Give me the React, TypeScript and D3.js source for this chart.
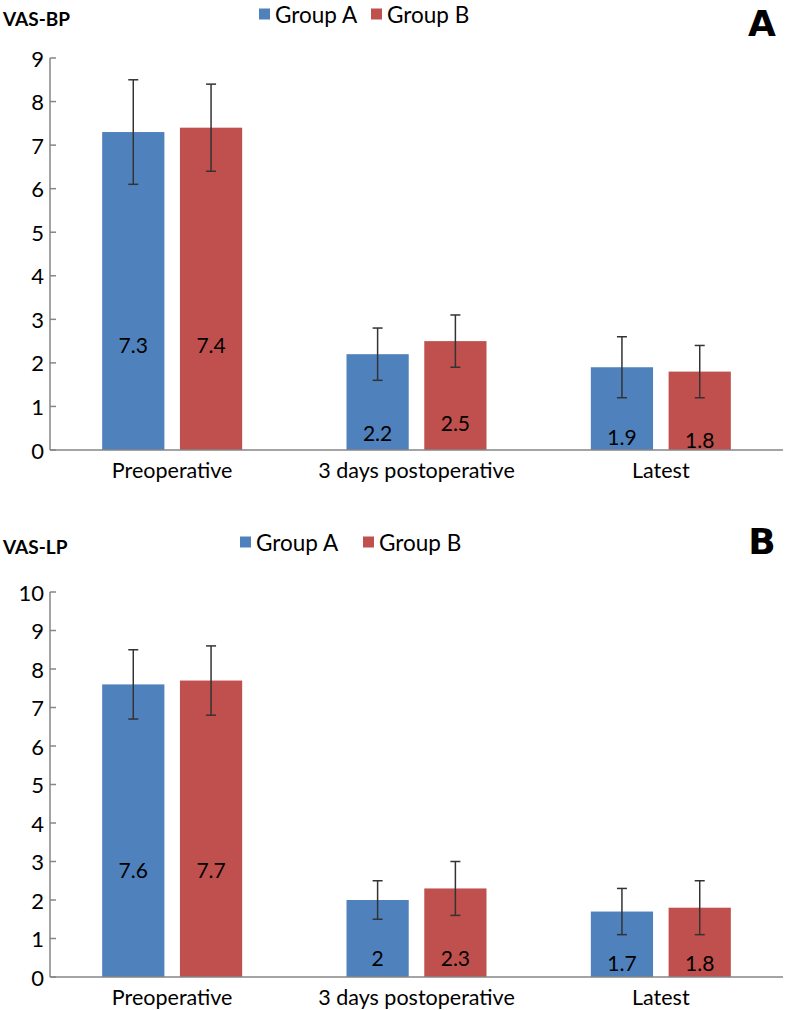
import React from "react";
import * as d3 from "d3";

const categories = ["Preoperative", "3 days postoperative", "Latest"];
const groups = ["Group A", "Group B"];

// VAS-BP (panel A)
const bpGroupA = [7.3, 2.2, 1.9];
const bpGroupB = [7.4, 2.5, 1.8];
const bpErrA = [1.2, 0.6, 0.7];
const bpErrB = [1.0, 0.6, 0.6];
const bpTicks = [0, 1, 2, 3, 4, 5, 6, 7, 8, 9];

// VAS-LP (panel B)
const lpGroupA = [7.6, 2, 1.7];
const lpGroupB = [7.7, 2.3, 1.8];
const lpErrA = [0.9, 0.5, 0.6];
const lpErrB = [0.9, 0.7, 0.7];
const lpTicks = [0, 1, 2, 3, 4, 5, 6, 7, 8, 9, 10];

// where the value labels sit inside the bars (value units above zero)
const bpLabelAt = [[2.42, 2.42], [0.41, 0.62], [0.32, 0.25]];
const lpLabelAt = [[2.79, 2.79], [0.5, 0.5], [0.38, 0.38]];

const colors = ["#4F81BD", "#C0504D"];
const font = "Lato, 'Open Sans', sans-serif";

const Panel = ({ top, bottom, max, ticks, seriesA, seriesB, errA, errB, labelAt, title, letter, legendX, legendY, letterY }) => {
  const left = 50;
  const right = 783;
  const y = d3.scaleLinear().domain([0, max]).range([bottom, top]);
  const x0 = d3.scaleBand().domain(categories).range([left, right]);
  const x1 = d3.scaleBand().domain(groups).range([-70, 70]).paddingInner(0.2);
  const values = [seriesA, seriesB];
  const errs = [errA, errB];

  return (
    <g>
      <text x={3} y={legendY + 4} fontFamily={font} fontWeight="bold" fontSize={19} dominantBaseline="central">
        {title}
      </text>
      <text x={762} y={letterY} fontFamily="'DejaVu Sans', sans-serif" fontWeight="bold" fontSize={36} textAnchor="middle" dominantBaseline="central">
        {letter}
      </text>
      {/* legend */}
      {groups.map((g, i) => (
        <g key={g} transform={`translate(${legendX[i]},${legendY})`}>
          <rect x={0} y={-5.5} width={11} height={11} fill={colors[i]} />
          <text x={16} y={0} fontFamily={font} fontSize={22.5} dominantBaseline="central">
            {g}
          </text>
        </g>
      ))}
      {/* y axis */}
      <line x1={left} x2={left} y1={y(max)} y2={bottom} stroke="#868686" strokeWidth={1.5} />
      {ticks.map((t) => (
        <g key={t}>
          <line x1={left} x2={left + 6} y1={y(t)} y2={y(t)} stroke="#868686" strokeWidth={1.5} />
          <text x={44} y={y(t)} fontFamily={font} fontSize={22} textAnchor="end" dominantBaseline="central">
            {t}
          </text>
        </g>
      ))}
      {/* bars */}
      {categories.map((c, ci) => {
        const cx = x0(c) + x0.bandwidth() / 2;
        return (
          <g key={c}>
            {groups.map((g, gi) => {
              const v = values[gi][ci];
              const e = errs[gi][ci];
              const bx = cx + x1(g);
              const mx = bx + x1.bandwidth() / 2;
              return (
                <g key={g}>
                  <rect x={bx} y={y(v)} width={x1.bandwidth()} height={bottom - y(v)} fill={colors[gi]} />
                  <line x1={mx} x2={mx} y1={y(v + e)} y2={y(v - e)} stroke="#333" strokeWidth={1.5} />
                  <line x1={mx - 5} x2={mx + 5} y1={y(v + e)} y2={y(v + e)} stroke="#333" strokeWidth={1.5} />
                  <line x1={mx - 5} x2={mx + 5} y1={y(v - e)} y2={y(v - e)} stroke="#333" strokeWidth={1.5} />
                  <text x={mx} y={y(labelAt[ci][gi])} fontFamily={font} fontSize={21} textAnchor="middle" dominantBaseline="central">
                    {v}
                  </text>
                </g>
              );
            })}
            <text x={cx} y={bottom + 20} fontFamily={font} fontSize={21.5} textAnchor="middle" dominantBaseline="central">
              {c}
            </text>
          </g>
        );
      })}
      <line x1={left} x2={right} y1={bottom} y2={bottom} stroke="#868686" strokeWidth={1.5} />
    </g>
  );
};

export default function App() {
  return (
    <svg width={792} height={1010} style={{ position: "absolute", left: 0, top: 0, background: "#fff" }}>
      <rect width={792} height={1010} fill="#fff" />
      <Panel
        top={58}
        bottom={450}
        max={9}
        ticks={bpTicks}
        seriesA={bpGroupA}
        seriesB={bpGroupB}
        errA={bpErrA}
        errB={bpErrB}
        labelAt={bpLabelAt}
        title="VAS-BP"
        letter="A"
        legendX={[259, 371]}
        legendY={14}
        letterY={23}
      />
      <Panel
        top={592}
        bottom={977}
        max={10}
        ticks={lpTicks}
        seriesA={lpGroupA}
        seriesB={lpGroupB}
        errA={lpErrA}
        errB={lpErrB}
        labelAt={lpLabelAt}
        title="VAS-LP"
        letter="B"
        legendX={[240, 363]}
        legendY={542}
        letterY={541}
      />
    </svg>
  );
}
